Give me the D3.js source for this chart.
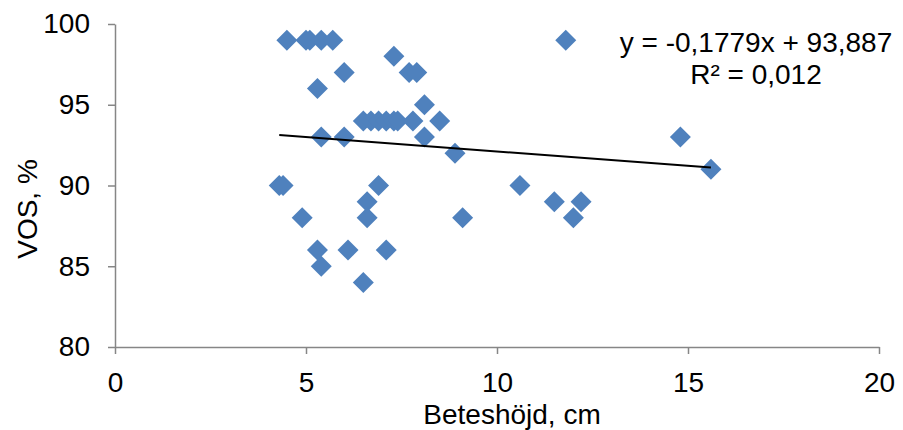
<!DOCTYPE html>
<html>
<head>
<meta charset="utf-8">
<script src="https://cdn.jsdelivr.net/npm/d3@7"></script>
<style>
  body { margin: 0; background: #fff; }
  svg { display: block; font-family: "Liberation Sans", Arial, sans-serif; }
</style>
</head>
<body>
<script>
// Beteshöjd (cm) vs VOS (%)
var heights = [4.5, 5.0, 5.1, 5.4, 5.7, 11.8,
               7.3,
               6.0, 7.7, 7.9,
               5.3,
               8.1,
               6.5, 6.7, 6.9, 7.1, 7.3, 7.4, 7.8, 8.5,
               5.4, 6.0, 8.1, 14.8,
               8.9,
               15.6,
               4.3, 4.4, 6.9, 10.6,
               6.6, 11.5, 12.2,
               4.9, 6.6, 9.1, 12.0,
               5.3, 6.1, 7.1,
               5.4,
               6.5];
var vos = [99, 99, 99, 99, 99, 99,
           98,
           97, 97, 97,
           96,
           95,
           94, 94, 94, 94, 94, 94, 94, 94,
           93, 93, 93, 93,
           92,
           91,
           90, 90, 90, 90,
           89, 89, 89,
           88, 88, 88, 88,
           86, 86, 86,
           85,
           84];
var xTicks = [0, 5, 10, 15, 20];
var yTicks = [80, 85, 90, 95, 100];
var slope = -0.1779, intercept = 93.887;
var eqLines = ["y = -0,1779x + 93,887", "R\u00b2 = 0,012"];

var W = 903, H = 430;
var m = {top: 24, right: 24, bottom: 83, left: 115};
var FS = "28px";

var svg = d3.select("body").append("svg")
    .attr("width", W).attr("height", H);

var x = d3.scaleLinear().domain([0, 20]).range([m.left, W - m.right]);
var y = d3.scaleLinear().domain([80, 100]).range([H - m.bottom, m.top]);

// axes
var gx = svg.append("g")
    .attr("transform", "translate(0," + y(80) + ")")
    .call(d3.axisBottom(x).tickValues(xTicks).tickSize(7).tickSizeOuter(0).tickPadding(18));
var gy = svg.append("g")
    .attr("transform", "translate(" + x(0) + ",0)")
    .call(d3.axisLeft(y).tickValues(yTicks).tickSize(7).tickSizeOuter(0).tickPadding(18));
[gx, gy].forEach(function (g) {
  g.select(".domain").attr("stroke", "#868686").attr("stroke-width", 1.5);
  g.selectAll(".tick line").attr("stroke", "#868686").attr("stroke-width", 1.5);
  g.selectAll(".tick text").attr("fill", "#000").style("font-size", FS)
    .style("font-family", "'Liberation Sans', Arial, sans-serif");
});

// points
var pts = heights.map(function (h, i) { return [h, vos[i]]; });
svg.append("g").selectAll("path").data(pts).enter().append("path")
    .attr("d", "M0,-10.5L10.5,0L0,10.5L-10.5,0Z")
    .attr("transform", function (d) { return "translate(" + x(d[0]) + "," + y(d[1]) + ")"; })
    .attr("fill", "#4F81BD");

// trendline
var xmin = d3.min(heights), xmax = d3.max(heights);
svg.append("line")
    .attr("x1", x(xmin)).attr("y1", y(intercept + slope * xmin))
    .attr("x2", x(xmax)).attr("y2", y(intercept + slope * xmax))
    .attr("stroke", "#000").attr("stroke-width", 2);

// equation
svg.append("g").selectAll("text").data(eqLines).enter().append("text")
    .attr("x", 756).attr("y", function (d, i) { return 52 + i * 32; })
    .attr("text-anchor", "middle")
    .style("font-size", FS)
    .text(function (d) { return d; });

// axis titles
svg.append("text")
    .attr("x", 512).attr("y", 424)
    .attr("text-anchor", "middle").style("font-size", FS)
    .text("Beteshöjd, cm");
svg.append("text")
    .attr("transform", "translate(37,209) rotate(-90)")
    .attr("text-anchor", "middle").style("font-size", FS)
    .text("VOS, %");
</script>
</body>
</html>
